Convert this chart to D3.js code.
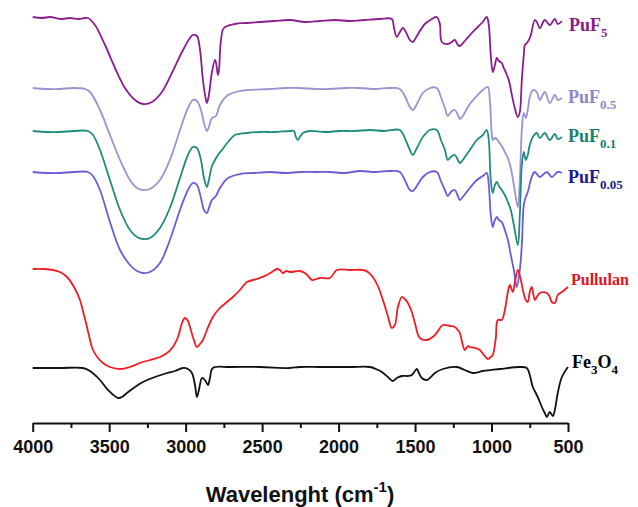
<!DOCTYPE html>
<html>
<head>
<meta charset="utf-8">
<script src="https://cdn.jsdelivr.net/npm/d3@7/dist/d3.min.js"></script>
<style>
  html, body { margin: 0; padding: 0; background: #fff; }
  svg { display: block; }
</style>
</head>
<body>
<svg id="chart" width="638" height="507"></svg>
<script>
// ---- Data: [wavenumber (cm-1), transmittance offset (a.u.)] ----
const puf5 = [[4000,406],[3940,405],[3887,406],[3820,404],[3756,405],[3700,404],[3658,405],[3639,405],[3593,398],[3527,378],[3462,355],[3397,335],[3331,323],[3279,319],[3220,321],[3155,331],[3090,350],[3024,371],[2972,385],[2952,388],[2926,387],[2906,373],[2887,343],[2867,323],[2861,320],[2848,328],[2828,351],[2808,363],[2802,361],[2789,348],[2782,353],[2769,383],[2750,395],[2678,399],[2600,400],[2514,401],[2420,402],[2318,403],[2220,401],[2122,402],[2020,403],[1926,402],[1830,403],[1730,404],[1652,404],[1638,395],[1619,386],[1599,391],[1580,395],[1560,391],[1534,383],[1514,381],[1488,387],[1436,399],[1390,404],[1358,406],[1338,399],[1325,381],[1286,379],[1260,381],[1240,383],[1220,378],[1207,377],[1175,382],[1129,390],[1090,396],[1057,401],[1031,406],[1018,398],[1005,368],[992,351],[978,358],[965,365],[952,362],[933,360],[920,355],[913,353],[900,348],[887,343],[867,328],[848,315],[828,306],[815,311],[802,343],[789,368],[782,378],[769,380],[756,383],[743,388],[717,403],[704,401],[684,395],[652,403],[619,398],[586,404],[567,399],[540,402]];

const puf05 = [[4000,335],[3900,334],[3822,334],[3740,335],[3658,334],[3625,331],[3560,313],[3495,288],[3429,263],[3364,243],[3318,235],[3279,233],[3233,234],[3168,243],[3103,263],[3037,293],[2985,315],[2952,323],[2926,322],[2900,313],[2880,300],[2861,292],[2848,296],[2828,305],[2802,307],[2776,318],[2723,328],[2645,332],[2449,334],[2350,335],[2253,335],[2150,334],[2057,334],[1960,335],[1861,335],[1760,334],[1665,335],[1599,334],[1567,327],[1534,316],[1514,313],[1488,319],[1449,330],[1403,335],[1358,335],[1331,326],[1305,315],[1286,307],[1266,311],[1240,313],[1220,308],[1207,304],[1188,307],[1142,319],[1096,327],[1057,333],[1024,336],[1011,323],[998,288],[992,283],[978,285],[965,284],[952,281],[933,277],[913,271],[893,265],[874,255],[854,238],[828,216],[815,243],[802,293],[789,310],[776,305],[763,313],[750,326],[730,333],[704,331],[684,323],[652,331],[619,320],[586,328],[567,323],[540,325]];

const puf01 = [[4000,292],[3900,291],[3822,291],[3730,292],[3639,292],[3606,288],[3560,273],[3495,243],[3429,213],[3364,193],[3318,186],[3279,184],[3233,185],[3168,195],[3103,215],[3037,245],[2985,268],[2952,276],[2926,275],[2900,263],[2880,245],[2861,236],[2848,243],[2828,257],[2808,263],[2789,268],[2763,273],[2723,281],[2678,288],[2600,290],[2514,291],[2420,291],[2318,292],[2292,292],[2279,286],[2266,283],[2253,286],[2233,290],[2188,292],[2090,291],[1992,292],[1895,292],[1795,293],[1700,292],[1599,293],[1567,285],[1534,273],[1514,268],[1488,275],[1449,286],[1403,293],[1358,293],[1331,283],[1305,273],[1286,263],[1266,266],[1240,268],[1220,263],[1207,260],[1188,263],[1142,273],[1096,283],[1057,288],[1031,293],[1018,283],[1005,243],[992,230],[978,238],[965,241],[952,237],[933,233],[913,228],[893,221],[874,213],[854,198],[828,178],[815,208],[802,258],[789,271],[776,263],[763,268],[750,278],[730,286],[704,290],[684,285],[652,290],[619,283],[586,289],[567,284],[540,286]];

const puf005 = [[4000,251],[3900,250],[3822,250],[3730,251],[3639,251],[3606,247],[3560,233],[3495,201],[3429,173],[3364,158],[3318,152],[3279,150],[3233,151],[3168,160],[3103,183],[3037,213],[2985,233],[2952,240],[2926,238],[2900,225],[2880,213],[2861,210],[2848,215],[2828,223],[2802,227],[2776,235],[2723,245],[2645,249],[2550,250],[2449,251],[2350,250],[2253,251],[2150,251],[2057,251],[1960,250],[1861,252],[1760,251],[1665,252],[1599,251],[1567,243],[1534,233],[1514,232],[1488,237],[1449,246],[1403,251],[1358,251],[1331,242],[1305,233],[1286,227],[1266,231],[1240,233],[1220,227],[1207,223],[1188,226],[1142,235],[1096,243],[1057,247],[1031,250],[1018,238],[1005,208],[992,196],[978,203],[965,206],[952,203],[933,201],[913,193],[893,183],[874,168],[854,153],[835,136],[815,153],[802,178],[789,218],[776,226],[763,231],[737,246],[717,251],[684,246],[638,251],[606,246],[567,251],[540,250]];

const pullulan = [[4000,154],[3920,154],[3867,153],[3822,151],[3776,146],[3730,136],[3691,123],[3665,108],[3645,96],[3625,83],[3606,73],[3573,65],[3541,60],[3495,56],[3429,54],[3364,56],[3299,60],[3233,63],[3168,66],[3122,70],[3083,76],[3050,86],[3024,100],[3005,105],[2985,102],[2972,96],[2946,83],[2926,76],[2906,79],[2887,83],[2861,93],[2822,106],[2776,115],[2730,121],[2684,127],[2645,133],[2599,141],[2534,144],[2469,148],[2436,151],[2403,154],[2384,153],[2364,150],[2344,152],[2318,151],[2253,152],[2220,150],[2188,145],[2174,143],[2122,145],[2057,145],[2011,153],[1926,153],[1841,153],[1808,151],[1776,146],[1743,137],[1710,123],[1678,107],[1652,95],[1632,98],[1612,116],[1586,126],[1567,124],[1547,120],[1521,111],[1501,100],[1469,85],[1423,83],[1370,88],[1318,98],[1273,97],[1240,96],[1220,93],[1207,90],[1188,78],[1174,73],[1155,77],[1142,76],[1109,75],[1076,73],[1050,68],[1024,64],[1005,66],[992,68],[972,85],[959,103],[933,103],[913,113],[893,131],[880,138],[861,131],[848,140],[828,153],[808,143],[795,133],[776,123],[763,121],[750,131],[737,136],[717,123],[704,126],[684,130],[638,130],[619,126],[606,121],[586,120],[567,128],[540,131],[500,136]];

const fe3o4 = [[4000,55],[3822,55],[3671,55],[3625,52],[3560,43],[3508,33],[3442,25],[3416,26],[3384,30],[3331,36],[3279,41],[3201,46],[3122,50],[3070,52],[3018,55],[2985,54],[2959,50],[2939,38],[2926,26],[2913,33],[2893,45],[2874,43],[2854,38],[2841,45],[2822,55],[2710,56],[2514,56],[2318,55],[2253,56],[2122,56],[1926,56],[1795,56],[1756,54],[1717,51],[1678,46],[1645,42],[1619,45],[1586,47],[1547,47],[1521,48],[1501,52],[1488,54],[1475,50],[1456,45],[1423,43],[1397,46],[1370,50],[1318,54],[1227,56],[1175,53],[1122,50],[1057,52],[946,54],[815,56],[769,55],[750,48],[730,36],[704,28],[684,21],[671,16],[652,10],[638,6],[619,11],[599,7],[586,13],[567,30],[540,46],[500,56]];

const seriesData = [puf5, puf05, puf01, puf005, pullulan, fe3o4];
const lineColors = ["#8B1E8F", "#9A93D3", "#1F8C7C", "#6A5BD6", "#EE1C24", "#111111"];
const labelColors = ["#8A1B8A", "#8D86C9", "#17806F", "#1B1B8B", "#E0141B", "#000000"];
// label parts: alternating [main, subscript, main, subscript]
const labelParts = [["PuF","5"],["PuF","0.5"],["PuF","0.1"],["PuF","0.05"],["Pullulan"],["Fe","3","O","4"]];

const majorTicks = [4000, 3500, 3000, 2500, 2000, 1500, 1000, 500];
const minorTicks = [3750, 3250, 2750, 2250, 1750, 1250, 750];
const xTitle = "Wavelenght (cm";
const xTitleSup = "-1";

// ---- Layout ----
const svg = d3.select("#chart");
const x = d3.scaleLinear().domain([4000, 500]).range([32.7, 568]);
const y = d3.scaleLinear().domain([0, 423]).range([423, 0]);
const axisY = 423;

const line = d3.line()
  .x(d => x(d[0]))
  .y(d => y(d[1]))
  .curve(d3.curveCatmullRom.alpha(0.5));

seriesData.forEach((s, i) => {
  svg.append("path")
    .datum(s)
    .attr("d", line)
    .attr("fill", "none")
    .attr("stroke", lineColors[i])
    .attr("stroke-width", 1.8)
    .attr("stroke-linejoin", "round");
});

// Axis
const axis = d3.axisBottom(x)
  .tickValues(majorTicks)
  .tickSize(9)
  .tickSizeOuter(0)
  .tickPadding(8)
  .tickFormat(d3.format("d"));
const gAxis = svg.append("g").attr("transform", `translate(0,${axisY})`).call(axis);
gAxis.select(".domain").attr("stroke", "#111").attr("stroke-width", 2);
gAxis.selectAll(".tick line").attr("stroke", "#111").attr("stroke-width", 2);
gAxis.selectAll(".tick text")
  .attr("fill", "#111")
  .style("font-family", "Liberation Sans, Arial, sans-serif")
  .style("font-weight", "bold")
  .style("font-size", "18px");

const minorAxis = d3.axisBottom(x).tickValues(minorTicks).tickSize(5).tickSizeOuter(0).tickFormat("");
const gMinor = svg.append("g").attr("transform", `translate(0,${axisY})`).call(minorAxis);
gMinor.select(".domain").remove();
gMinor.selectAll(".tick line").attr("stroke", "#111").attr("stroke-width", 2);

// Axis title
const title = svg.append("text")
  .attr("x", 300).attr("y", 502)
  .attr("text-anchor", "middle")
  .style("font-family", "Liberation Sans, Arial, sans-serif")
  .style("font-weight", "bold")
  .style("font-size", "22px")
  .attr("fill", "#111");
title.append("tspan").text(xTitle);
title.append("tspan").attr("dy", -10).style("font-size", "15px").text(xTitleSup);
title.append("tspan").attr("dy", 10).text(")");

// Series labels
const labelX = [569, 568, 568, 568, 571, 572];
const labelBase = [31, 103, 142, 183, 285, 368];
const labelSize = [18, 18, 18, 18, 16, 18];
labelParts.forEach((parts, i) => {
  const t = svg.append("text")
    .attr("x", labelX[i]).attr("y", labelBase[i])
    .attr("fill", labelColors[i])
    .style("font-family", "Liberation Serif, 'Times New Roman', serif")
    .style("font-weight", "bold")
    .style("font-size", labelSize[i] + "px");
  parts.forEach((p, k) => {
    const isSub = k % 2 === 1;
    const ts = t.append("tspan").text(p);
    if (isSub) ts.attr("dy", 6).style("font-size", "13px");
    else if (k > 0) ts.attr("dy", -6);
  });
});
</script>
</body>
</html>
